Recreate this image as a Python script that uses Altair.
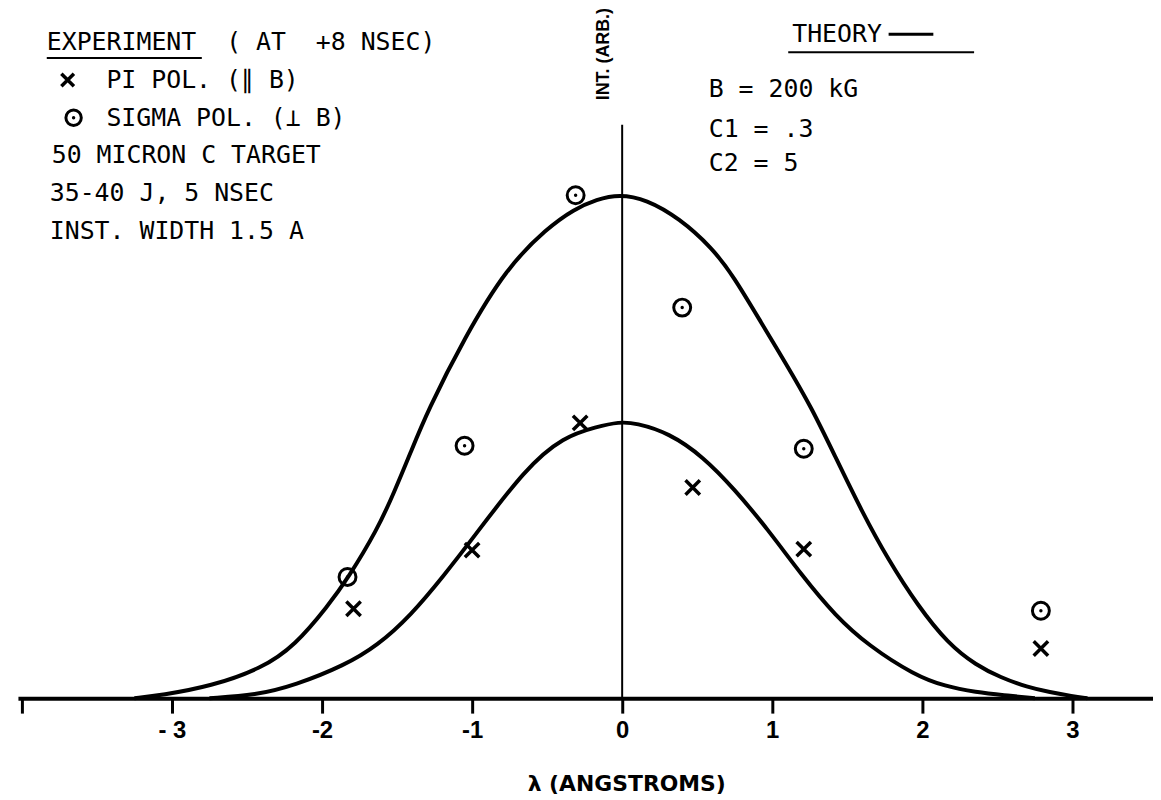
import altair as alt
import pandas as pd

# ---- data (intensity in arbitrary units) ----
upper_x = [-3.25, -3.07, -2.74, -2.40, -2.18, -1.96, -1.83, -1.63, -1.52, -1.41, -1.30,
           -1.05, -0.77, -0.50, -0.32, -0.17, -0.02, 0.16, 0.38, 0.60, 0.74, 0.93, 1.09,
           1.26, 1.42, 1.60, 1.77, 1.97, 2.17, 2.36, 2.52, 2.70, 2.85, 3.00, 3.10]
upper_y = [0.00, 0.03, 0.12, 0.30, 0.53, 0.93, 1.20, 1.70, 2.07, 2.47, 2.88,
           3.63, 4.33, 4.73, 4.92, 5.02, 5.07, 5.02, 4.83, 4.53, 4.25, 3.77, 3.37,
           2.93, 2.43, 1.87, 1.40, 0.93, 0.55, 0.33, 0.21, 0.11, 0.06, 0.02, 0.00]
lower_x = [-2.75, -2.44, -2.18, -1.85, -1.63, -1.41, -1.19, -1.00, -0.64, -0.39, -0.17,
           -0.02, 0.09, 0.31, 0.54, 0.75, 0.97, 1.20, 1.42, 1.64, 1.95, 2.15, 2.36, 2.54, 2.75]
lower_y = [0.00, 0.03, 0.13, 0.33, 0.53, 0.83, 1.23, 1.60, 2.32, 2.63, 2.73,
           2.78, 2.77, 2.67, 2.43, 2.10, 1.70, 1.23, 0.83, 0.53, 0.23, 0.12, 0.06, 0.03, 0.00]

sigma_x = [-1.83, -1.05, -0.31, 0.40, 1.21, 2.79]
sigma_y = [1.22, 2.54, 5.06, 3.93, 2.51, 0.88]
pi_x = [-1.79, -1.00, -0.28, 0.47, 1.21, 2.79]
pi_y = [0.90, 1.49, 2.77, 2.12, 1.50, 0.50]

x_ticks = [-4, -3, -2, -1, 0, 1, 2, 3]

NB = "\u00a0"
exp_lines = ["EXPERIMENT" + NB + NB + "(" + NB + "AT" + NB + NB + "+8 NSEC)",
             "PI POL. (\u2225 B)", "SIGMA POL. (\u22a5 B)",
             "50 MICRON C TARGET", "35-40 J, 5 NSEC", "INST. WIDTH 1.5 A"]
theory_lines = ["THEORY", "B = 200 kG", "C1 = .3", "C2 = 5"]
x_title = "\u03bb (ANGSTROMS)"
y_title = "INT. (ARB.)"

# ---- tables ----
curves = pd.concat([
    pd.DataFrame({"x": upper_x, "y": upper_y, "curve": "upper"}),
    pd.DataFrame({"x": lower_x, "y": lower_y, "curve": "lower"}),
])
sigma = pd.DataFrame({"x": sigma_x, "y": sigma_y})
pi = pd.DataFrame({"x": pi_x, "y": pi_y})

W, H = 1142, 690
xs = alt.Scale(domain=[-4.026, 3.537], nice=False, zero=False)
ys = alt.Scale(domain=[0, 6.90], nice=False, zero=False)

FONT_MONO = "DejaVu Sans Mono"
XPATH = "M-1,-1L1,1M-1,1L1,-1"

xaxis = alt.Axis(
    values=x_ticks,
    labelExpr="datum.value == -4 ? '' : (datum.value == -3 ? '- 3' : (datum.value < 0 ? '-' + abs(datum.value) : '' + datum.value))",
    title=x_title,
    grid=False, domainColor="black", domainWidth=4, tickColor="black", tickWidth=3,
    tickSize=15, labelFont="Liberation Sans", labelFontWeight="bold", labelFontSize=24,
    labelColor="black", labelBaseline="middle", labelPadding=18, labelFlush=False,
    titleFont="DejaVu Sans", titleFontWeight="bold", titleFontSize=22,
    titleColor="black", titleX=612, titleY=86, titleBaseline="middle", titleAnchor="start",
    titleAlign="center",
)


def X():
    return alt.X("x:Q", scale=xs, axis=xaxis)


def Y():
    return alt.Y("y:Q", scale=ys, axis=None)


base_curve = alt.Chart(curves).mark_line(color="black", strokeWidth=4, interpolate="basis").encode(
    x=X(), y=Y(), detail="curve:N",
)

circles = alt.Chart(sigma).mark_point(shape="circle", filled=False, size=290, strokeWidth=3,
                                      color="black", opacity=1).encode(x=X(), y=Y())
dots = alt.Chart(sigma).mark_point(shape="circle", filled=True, size=12, color="black",
                                   opacity=1).encode(x=X(), y=Y())
crosses = alt.Chart(pi).mark_point(shape=XPATH, filled=False, size=210, strokeWidth=3.5,
                                   color="black", opacity=1).encode(x=X(), y=Y())

# vertical intensity axis line at x = 0
vline = alt.Chart().mark_rule(color="black", strokeWidth=2).encode(
    x=alt.XDatum(0, scale=xs, axis=xaxis), y=alt.value(113), y2=alt.value(H))


def txt(s, x, y, size=25, font=FONT_MONO, weight="normal", align="left", angle=0):
    return alt.Chart().mark_text(text=s, font=font, fontSize=size, fontWeight=weight,
                                 align=align, baseline="middle", angle=angle,
                                 color="black").encode(x=alt.value(x), y=alt.value(y))


def hline(x1, x2, y, w=2):
    return alt.Chart().mark_rule(color="black", strokeWidth=w).encode(
        x=alt.value(x1), x2=alt.value(x2), y=alt.value(y))


annotations = [
    txt(exp_lines[0], 29, 30),
    hline(29, 185, 46),
    txt(exp_lines[1], 89, 68),
    txt(exp_lines[2], 89, 106),
    txt(exp_lines[3], 34, 144),
    txt(exp_lines[4], 32, 182),
    txt(exp_lines[5], 32, 220),
    txt(theory_lines[0], 779, 22),
    hline(876, 921, 22, 3),
    hline(775, 962, 40, 2),
    txt(theory_lines[1], 695, 77),
    txt(theory_lines[2], 695, 117),
    txt(theory_lines[3], 695, 152),
    txt(y_title, 590, 42, size=18, font="Liberation Sans", weight="bold", align="center", angle=270),
    # legend symbols
    alt.Chart().mark_point(shape=XPATH, filled=False, size=160, strokeWidth=3.5, color="black",
                           opacity=1).encode(x=alt.value(50), y=alt.value(68)),
    alt.Chart().mark_point(shape="circle", filled=False, size=240, strokeWidth=3, color="black",
                           opacity=1).encode(x=alt.value(56), y=alt.value(106)),
    alt.Chart().mark_point(shape="circle", filled=True, size=12, color="black",
                           opacity=1).encode(x=alt.value(56), y=alt.value(106)),
]

chart = alt.layer(base_curve, vline, circles, dots, crosses, *annotations).properties(
    width=W, height=H,
    autosize=alt.AutoSizeParams(type="none"),
    padding={"left": 10, "top": 2, "right": 0, "bottom": 100},
    background="white",
).configure_view(stroke=None)

chart.save("out.html", embed_options={"renderer": "svg", "actions": False})
